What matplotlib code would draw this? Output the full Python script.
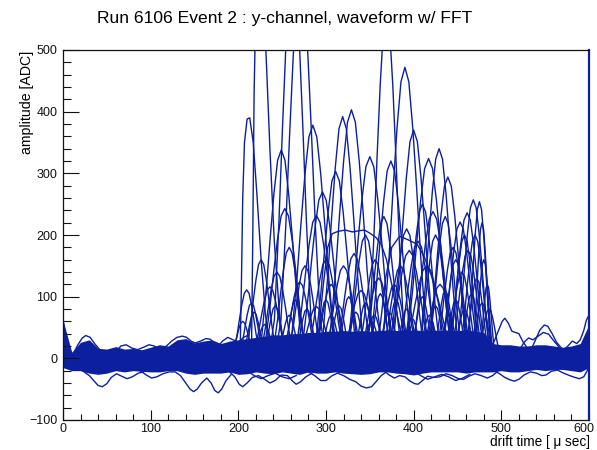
#!/usr/bin/python3

import matplotlib
matplotlib.use('Agg')
import matplotlib.pyplot as plt
from matplotlib.ticker import MultipleLocator

## Global lists ##
title = 'Run 6106 Event 2 : y-channel, waveform w/ FFT'
x_title = 'drift time [ \u03bc sec]'
y_title = 'amplitude [ADC]'
x_ticks = [0, 100, 200, 300, 400, 500, 600]
x_tick_labels = ['0', '100', '200', '300', '400', '500', '600']

# noise band of all channels, sampled every 10 usec
band_time = list(range(0, 601, 10))
band_hi = [62, 10, 26, 30, 16, 15, 19, 15, 16, 14,
           18, 22, 20, 30, 32, 25, 28, 30, 24, 28,
           30, 32, 34, 36, 38, 38, 40, 40, 42, 42,
           44, 44, 45, 44, 45, 44, 45, 46, 45, 46,
           46, 45, 46, 45, 46, 45, 46, 44, 42, 24,
           22, 22, 20, 20, 22, 22, 20, 18, 20, 24, 55]
band_lo = [-15, -20, -20, -24, -26, -24, -20, -22, -20, -21,
           -22, -22, -20, -20, -24, -26, -24, -24, -24, -22,
           -26, -25, -22, -24, -25, -22, -24, -26, -22, -24,
           -24, -22, -24, -25, -26, -25, -22, -22, -24, -25,
           -27, -24, -22, -22, -22, -22, -24, -22, -22, -22,
           -20, -22, -22, -20, -18, -20, -18, -18, -20, -22, -15]

# channels sticking out of the band: (time, adc)
noise_upper = [
    [(0, 62), (2, 45), (5, 20), (8, 6), (12, 8), (17, 22), (22, 33), (26, 37), (31, 34), (36, 24), (42, 14), (48, 12)],
    [(60, 10), (66, 20), (72, 22), (78, 17), (85, 14), (92, 18), (98, 22), (104, 20), (110, 14)],
    [(112, 14), (118, 20), (124, 28), (130, 34), (136, 36), (141, 34), (146, 28), (151, 25), (157, 28), (163, 32), (168, 31), (174, 22), (180, 16)],
    [(175, 16), (182, 28), (188, 34), (194, 30), (200, 26), (206, 34), (212, 38)],
    [(486, 14), (492, 28), (497, 46), (501, 60), (504, 65), (508, 57), (512, 44), (516, 42), (520, 40), (525, 26), (531, 14)],
    [(520, 12), (526, 26), (531, 33), (536, 30), (542, 36), (548, 42), (554, 39), (560, 28), (566, 18)],
    [(534, 14), (539, 30), (544, 46), (549, 54), (553, 52), (558, 40), (563, 26), (569, 16)],
    [(570, 12), (576, 20), (581, 28), (586, 24), (590, 30), (594, 45), (597, 62), (600, 70)],
]
noise_lower = [
    [(18, -16), (24, -22), (30, -28), (35, -36), (40, -44), (45, -46), (50, -41), (55, -31), (61, -25), (67, -29), (73, -33), (79, -30), (86, -24), (92, -22)],
    [(88, -20), (95, -27), (101, -32), (107, -30), (114, -25), (121, -22), (128, -22), (134, -28), (140, -40), (145, -50), (149, -54), (153, -50),
     (158, -40), (164, -32), (169, -40), (173, -52), (177, -56), (181, -50), (186, -36), (192, -26)],
    [(190, -22), (196, -30), (201, -42), (205, -46), (210, -40), (216, -31), (223, -28), (230, -34), (236, -40), (242, -36), (249, -27), (256, -28),
     (262, -37), (266, -42), (271, -38), (277, -30), (284, -24)],
    [(210, -20), (218, -28), (226, -33), (234, -28), (242, -24), (250, -30), (258, -33), (266, -28)],
    [(280, -22), (287, -28), (294, -36), (300, -36), (306, -29), (313, -24), (320, -28), (327, -34), (334, -38), (340, -45), (346, -48), (352, -46),
     (357, -38), (363, -28), (369, -22)],
    [(366, -20), (372, -27), (378, -32), (384, -28), (390, -30), (396, -37), (401, -41), (405, -42), (410, -36), (416, -29), (423, -31), (430, -30),
     (437, -25), (444, -28), (451, -33), (457, -34), (463, -29), (470, -25), (477, -28), (484, -32), (490, -28), (495, -22)],
    [(400, -20), (408, -28), (416, -34), (424, -30), (432, -26), (440, -30), (448, -36), (456, -32), (464, -26)],
    [(492, -20), (498, -25), (504, -31), (510, -35), (515, -37), (520, -34), (526, -27), (533, -22), (540, -24), (546, -28), (551, -27), (557, -21),
     (564, -19), (571, -24), (578, -28), (584, -31), (589, -33), (594, -30), (598, -20), (600, -12)],
]

# hump of one hit channel: offset from peak (in half widths), fraction of peak
pulse_dt = [-1, -0.8, -0.6, -0.45, -0.3, -0.15, 0, 0.15, 0.3, 0.45, 0.6, 0.8, 1]
pulse_frac = [0.02, 0.10, 0.35, 0.58, 0.79, 0.95, 1, 0.95, 0.79, 0.58, 0.35, 0.10, 0.02]

# large signals: peak time [usec], peak [ADC], half width [usec]
big_time = [262, 271, 369, 390, 249, 285, 319, 329, 350, 374, 400, 417,
            429, 439, 468, 475, 422, 453, 461, 253, 289, 296, 311]
big_adc = [640, 620, 560, 472, 338, 378, 392, 403, 327, 320, 370, 324,
           340, 294, 257, 254, 238, 221, 236, 243, 232, 270, 303]
big_width = [26, 28, 24, 30, 28, 30, 28, 30, 30, 28, 28, 30,
             26, 26, 22, 16, 28, 24, 24, 28, 28, 28, 28]

# medium signals
mid_time = [209.5, 236, 270, 289, 320, 340, 360, 385, 395, 405, 415, 430, 445,
            455, 462, 470, 480, 484,
            215, 226, 244, 258, 276, 300, 306, 332, 345, 356, 366, 378, 392,
            410, 425, 436, 448, 458, 472, 478]
mid_adc = [111, 116, 124, 84, 150, 110, 130, 150, 175, 190, 150, 120, 180,
           140, 175, 200, 160, 120,
           90, 160, 140, 180, 150, 160, 120, 170, 200, 160, 230, 120, 210,
           250, 200, 230, 160, 200, 130, 220]
mid_width = [18, 22, 22, 22, 24, 24, 24, 24, 28, 26, 30, 24, 22,
             20, 22, 20, 12, 10,
             16, 20, 22, 22, 22, 24, 22, 24, 24, 22, 24, 22, 24,
             24, 22, 22, 20, 20, 16, 12]

# small signals sitting on the band
small_time = [205, 218, 230, 242, 258, 265, 278, 300, 306, 315, 326, 334, 345,
              352, 355, 362, 372, 380, 392, 398, 410, 418, 425, 436, 440, 448,
              458, 466, 478, 486]
small_adc = [60, 75, 55, 85, 70, 95, 80, 95, 70, 85, 100, 75, 90,
             60, 70, 105, 75, 95, 80, 65, 100, 70, 85, 110, 70, 95,
             80, 105, 90, 80]

# channels with odd shapes: fast rises near 204 and 218, flat top near 205 ADC
odd_traces = [
    [(202, 5), (203.5, 120), (205, 260), (207, 350), (210, 388), (213, 390), (217, 350), (221, 270), (226, 160), (231, 70), (236, 15)],
    [(215, 8), (216.5, 200), (218, 430), (220, 580), (223, 650), (226, 640), (229, 580), (232, 480), (236, 340), (241, 190), (247, 70), (253, 10)],
    [(286, 5), (292, 50), (297, 120), (302, 180), (307, 202), (314, 206), (322, 208), (330, 205), (338, 207), (344, 208), (350, 203), (357, 196),
     (363, 185), (369, 160), (375, 120), (381, 72), (387, 32), (394, 8)],
    [(355, 5), (362, 55), (368, 130), (375, 180), (384, 198), (394, 192), (404, 185), (412, 165), (420, 135), (428, 95), (436, 48), (444, 12)],
]

wave_color = '#0c1f9e'


def pulse(t0, adc, half_width):
    t = [t0 + d * half_width for d in pulse_dt]
    a = [f * adc for f in pulse_frac]
    return t, a
## END Function ##


plt.rcParams['font.family'] = ['Liberation Sans', 'DejaVu Sans']

fig = plt.figure(figsize=(5.97, 4.5), dpi=100)
ax = fig.add_axes([63 / 597, 30 / 450, 526 / 597, 370 / 450])

# all channels overlaid
ax.fill_between(band_time, band_lo, band_hi, color=wave_color, lw=0)

traces = []
for trace in noise_upper + noise_lower + odd_traces:
    traces.append(tuple(zip(*trace)))
for t0, adc in zip(small_time, small_adc):
    traces.append(pulse(t0, adc, 15))
for t0, adc, w in zip(mid_time, mid_adc, mid_width):
    traces.append(pulse(t0, adc, w))
for t0, adc, w in zip(big_time, big_adc, big_width):
    traces.append(pulse(t0, adc, w))

for t, adc in traces:
    ax.plot(t, adc, color=wave_color, lw=1.0, solid_joinstyle='round')

ax.set_xlim(0, 600)
ax.set_ylim(-100, 500)
# last label is nudged left by hand so it stays on the canvas
ax.set_xticks(x_ticks, labels=x_tick_labels[:-1] + [''])
ax.annotate(x_tick_labels[-1], xy=(x_ticks[-1], -100), xytext=(-3.5, -2.2),
            textcoords='offset points', ha='center', va='top', fontsize=9, color='#111111')
ax.xaxis.set_minor_locator(MultipleLocator(20))
ax.yaxis.set_major_locator(MultipleLocator(100))
ax.yaxis.set_minor_locator(MultipleLocator(20))
ax.tick_params(axis='both', which='both', direction='in', width=0.8, colors='#111111',
               labelsize=9, top=False, right=False)
ax.tick_params(axis='y', which='major', length=11.5, pad=4)
ax.tick_params(axis='y', which='minor', length=5.8)
ax.tick_params(axis='x', which='major', length=7, pad=2)
ax.tick_params(axis='x', which='minor', length=4.3)

for side in ['left', 'bottom', 'top']:
    ax.spines[side].set_linewidth(0.9)
    ax.spines[side].set_color('#111111')
ax.spines['right'].set_linewidth(1.6)
ax.spines['right'].set_color(wave_color)

fig.text(285 / 597, 1 - 18 / 450, title, ha='center', va='center', fontsize=12.6)
fig.text(27 / 597, 1 - 51 / 450, y_title, rotation=90, ha='center', va='top', fontsize=10.2)
fig.text(590 / 597, 1 - 442 / 450, x_title, ha='right', va='center', fontsize=9.8)

fig.savefig('out.png', dpi=100)
